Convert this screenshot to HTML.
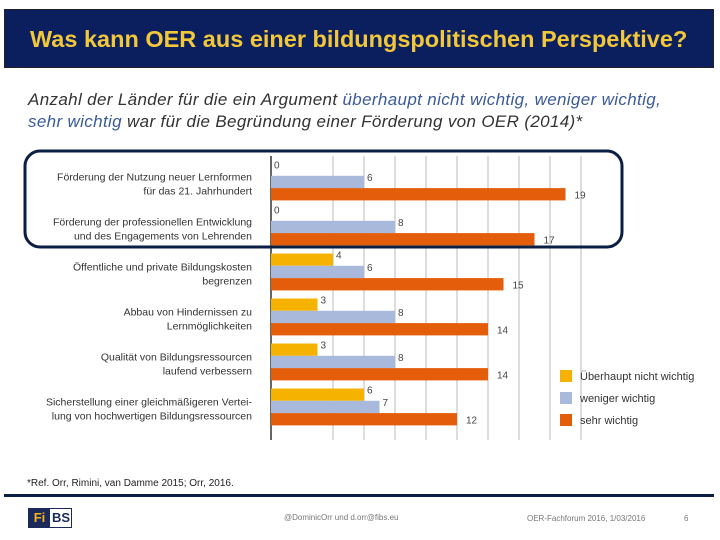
<!DOCTYPE html>
<html><head><meta charset="utf-8"><style>
body{margin:0;width:720px;height:540px;background:#fff;font-family:"Liberation Sans",sans-serif;position:relative;overflow:hidden}
.abs{position:absolute}
</style></head><body>
<div class="abs" style="left:4px;top:9px;width:710px;height:59px;background:#0b1f5e;border:1px solid #222;box-sizing:border-box"></div>
<div class="abs" style="left:30px;top:26px;font-size:23.5px;font-weight:bold;color:#f2c83a;white-space:nowrap">Was kann OER aus einer bildungspolitischen Perspektive?</div>
<div class="abs" style="left:28px;top:89px;font-size:17px;letter-spacing:0.35px;font-style:italic;color:#333;line-height:22px;width:690px;white-space:nowrap">Anzahl der Länder für die ein Argument <span style="color:#3a5a9a">überhaupt nicht wichtig, weniger wichtig,</span><br><span style="color:#3a5a9a">sehr wichtig</span> war für die Begründung einer Förderung von OER (2014)*</div>
<svg class="abs" style="left:0;top:0" width="720" height="540">
<g id="grid"></g><g id="bars"></g><g id="labels"></g>
<rect x="25" y="151" width="597" height="96" rx="15" fill="none" stroke="#0b1f44" stroke-width="3"/>
<g font-size="11" fill="#333">
<rect x="560" y="370" width="12" height="12" fill="#f5b300"/><text x="580" y="380">Überhaupt nicht wichtig</text>
<rect x="560" y="392" width="12" height="12" fill="#a9b9db"/><text x="580" y="402">weniger wichtig</text>
<rect x="560" y="414" width="12" height="12" fill="#e35d0a"/><text x="580" y="424">sehr wichtig</text>
</g>
</svg>
<div class="abs" style="left:27px;top:478px;font-size:10px;color:#222">*Ref. Orr, Rimini, van Damme 2015; Orr, 2016.</div>
<div class="abs" style="left:4px;top:494px;width:710px;height:3px;background:#0b1f44"></div>
<div class="abs" style="left:28px;top:508px;width:44px;height:20px;border:1px solid #1b2a5a;box-sizing:border-box;font-weight:bold;font-size:13px;line-height:18px">
<span style="display:inline-block;width:21px;background:#1b2a5a;color:#f2b51c;text-align:center">Fi</span><span style="color:#1b2a5a;padding-left:2px">BS</span></div>
<div class="abs" style="left:284px;top:513px;font-size:8px;color:#777">@DominicOrr und d.orr@fibs.eu</div>
<div class="abs" style="left:527px;top:514px;font-size:8px;color:#777">OER-Fachforum 2016, 1/03/2016</div>
<div class="abs" style="left:684px;top:514px;font-size:8px;color:#777">6</div>
<script>
const categories=[["Förderung der Nutzung neuer Lernformen","für das 21. Jahrhundert"],["Förderung der professionellen Entwicklung","und des Engagements von Lehrenden"],["Öffentliche und private Bildungskosten","begrenzen"],["Abbau von Hindernissen zu","Lernmöglichkeiten"],["Qualität von Bildungsressourcen","laufend verbessern"],["Sicherstellung einer gleichmäßigeren Vertei-","lung von hochwertigen Bildungsressourcen"]];
const notImportant=[0,0,4,3,3,6];
const lessImportant=[6,8,6,8,8,7];
const veryImportant=[19,17,15,14,14,12];
const gridTicks=[4,6,8,10,12,14,16,18,20];
const NS="http://www.w3.org/2000/svg";
const x0=271,unit=15.5,top0=163.5,pitch=45,bh=12.3;
const xs=v=>x0+v*unit;
function mk(tag,attrs,parent){const e=document.createElementNS(NS,tag);for(const k in attrs)e.setAttribute(k,attrs[k]);document.getElementById(parent).appendChild(e);return e;}
gridTicks.forEach(t=>{const l=mk('line',{x1:xs(t),x2:xs(t),y1:156,y2:440,stroke:'#bbb','stroke-width':1},'grid');

});
const ax=mk('line',{x1:x0,x2:x0,y1:156,y2:440,stroke:'#333','stroke-width':1.5},'grid');


const series=[[notImportant,'#f5b300'],[lessImportant,'#a9b9db'],[veryImportant,'#e35d0a']];
categories.forEach((c,i)=>{
 const gy=top0+i*pitch;
 series.forEach(([arr,col],s)=>{
  const y=gy+s*bh,v=arr[i];
  const r=mk('rect',{x:x0,y:y,width:Math.max(0,xs(v)-x0),height:bh,fill:col},'bars');
  
  
  const t=mk('text',{x:xs(v)+(s==2?9:3),y:y+bh/2+(s==2?4:-1),'font-size':10,fill:'#444'},'labels');
  t.textContent=v;
  
  
 });
 c.forEach((line,k)=>{
  const t=mk('text',{x:252,y:gy+17+k*14,'font-size':10.5,fill:'#333','text-anchor':'end'},'labels');
  t.textContent=line;
  
  
 });
});
</script>
</body></html>
